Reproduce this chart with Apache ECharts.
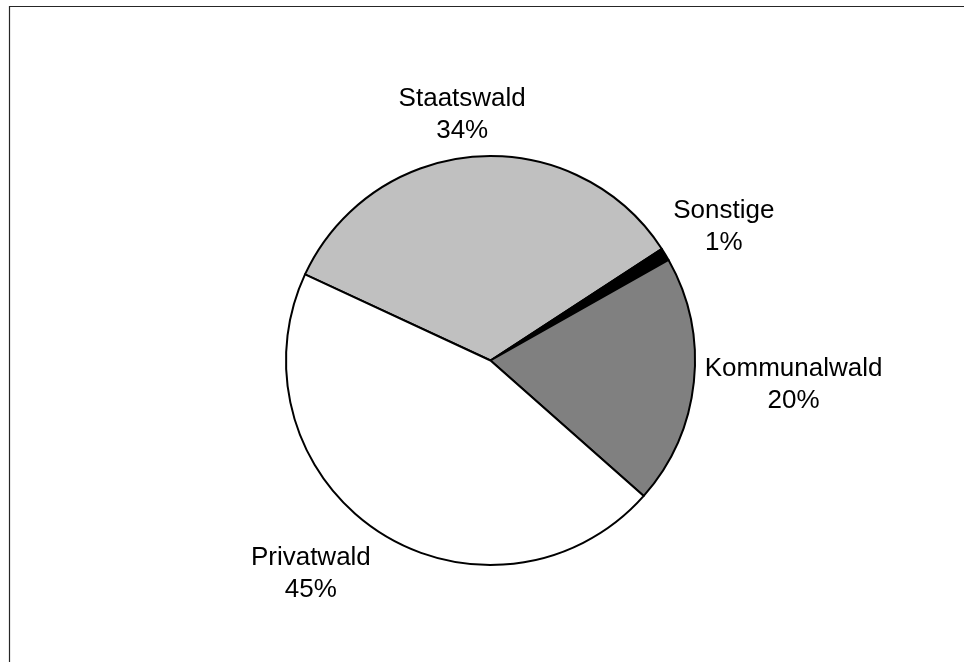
<!DOCTYPE html>
<html>
<head>
<meta charset="utf-8">
<script src="https://cdn.jsdelivr.net/npm/echarts@6/dist/echarts.min.js"></script>
<style>html,body{margin:0;padding:0;background:#fff;}#c{width:964px;height:662px;}</style>
</head>
<body>
<div id="c"></div>
<script>
// Data (share of forest area, %)
const categories = ['Staatswald', 'Sonstige', 'Kommunalwald', 'Privatwald'];
const values = [33.9, 1.0, 19.7, 45.4];
const colors = ['#c0c0c0', '#000000', '#808080', '#ffffff'];

// Label placement: [angle nudge (deg) relative to slice mid-angle, distance from centre (px)]
const labelPlacement = [[2.5, 247], [-1.4, 269], [1.5, 304], [-6.9, 279]];

const CX = 490.5, CY = 360.5, R = 204.5, START = 155.1;

const total = values.reduce((a, b) => a + b, 0);
const midAngles = [];
let acc = START;
values.forEach(v => {
  const span = v / total * 360;
  midAngles.push(acc - span / 2);
  acc -= span;
});

const chart = echarts.init(document.getElementById('c'), null, {renderer: 'canvas'});
chart.setOption({
  animation: false,
  graphic: [{
    type: 'rect',
    shape: {x: 9.5, y: 6.5, width: 2000, height: 2000},
    style: {fill: 'none', stroke: '#262626', lineWidth: 1.2},
    silent: true
  }],
  series: [{
    type: 'pie',
    center: [CX, CY],
    radius: [0, R],
    startAngle: START,
    clockwise: true,
    avoidLabelOverlap: false,
    minAngle: 0,
    emphasis: {disabled: true},
    itemStyle: {borderColor: '#000', borderWidth: 2},
    label: {
      show: true,
      position: 'outside',
      fontFamily: 'Liberation Sans, Arial, sans-serif',
      fontSize: 26,
      lineHeight: 32,
      color: '#000',
      align: 'center',
      formatter: p => p.name + '\n' + Math.round(p.value) + '%'
    },
    labelLine: {show: false},
    labelLayout: function (params) {
      const i = params.dataIndex;
      const a = (midAngles[i] + labelPlacement[i][0]) * Math.PI / 180;
      const d = labelPlacement[i][1];
      return {
        x: CX + d * Math.cos(a),
        y: CY - d * Math.sin(a),
        align: 'center',
        verticalAlign: 'middle'
      };
    },
    data: categories.map((c, i) => ({name: c, value: values[i], itemStyle: {color: colors[i]}}))
  }]
});
</script>
</body>
</html>
